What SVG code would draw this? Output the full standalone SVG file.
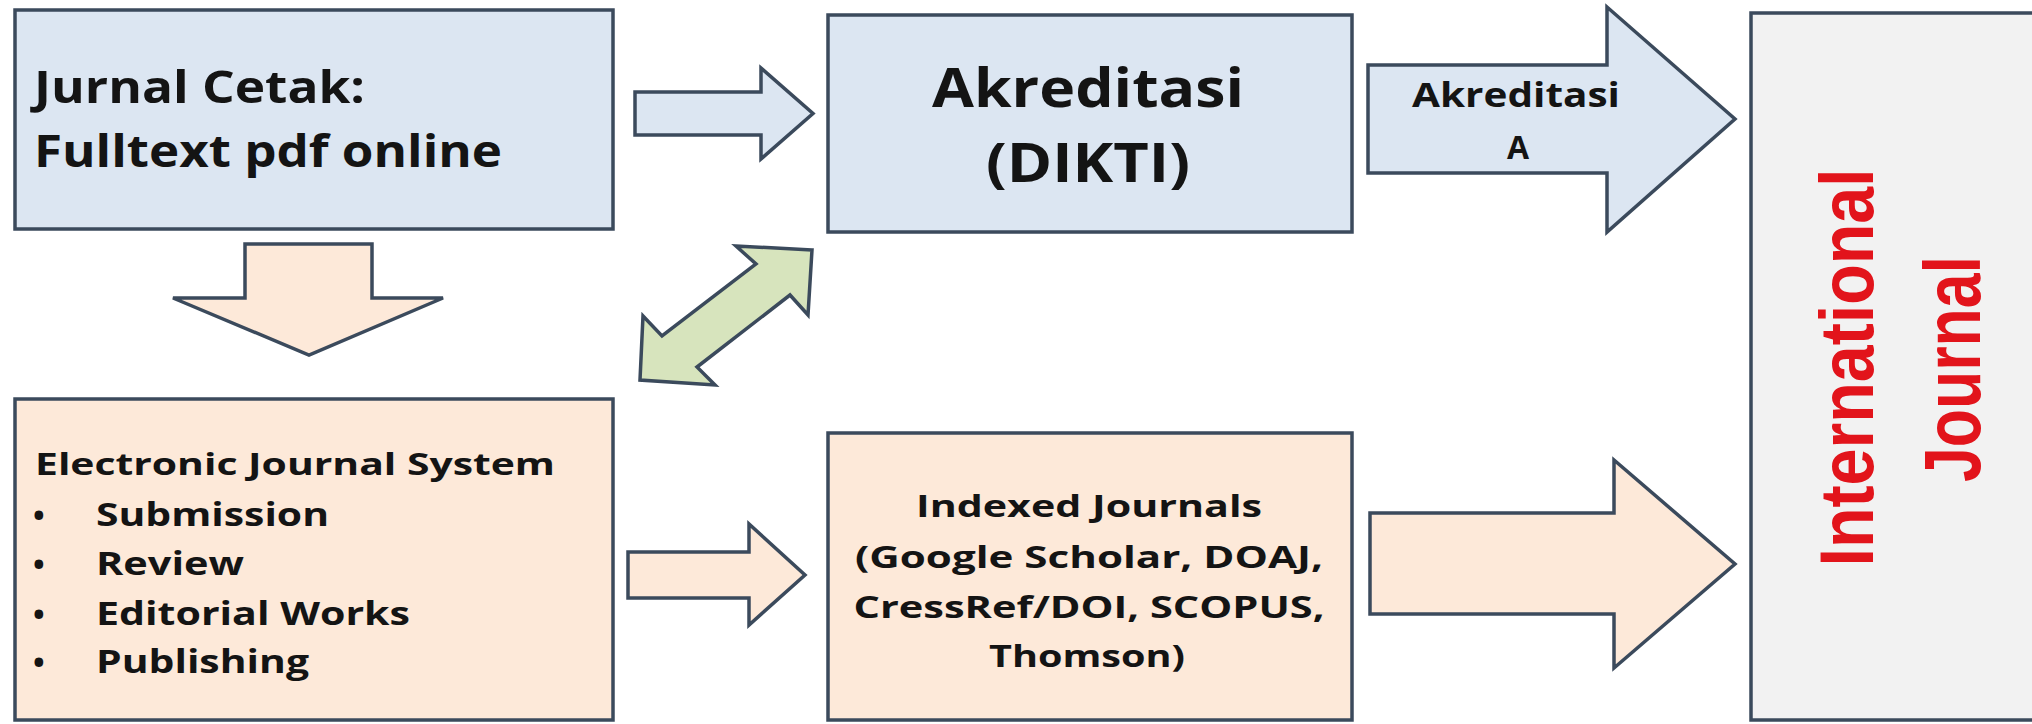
<svg xmlns="http://www.w3.org/2000/svg" width="2032" height="724" viewBox="0 0 2032 724">
<style>
.box{stroke:#3b4a5c;stroke-width:3.5}
.blue{fill:#dce6f2}
.peach{fill:#fde9d9}
.green{fill:#d7e4bd}
.grey{fill:#f2f2f2}
.arr{stroke:#3b4a5c;stroke-width:3.5;stroke-linejoin:miter}
.t{font-family:"Open Sans","Liberation Sans",sans-serif;font-weight:700;fill:#141414}
.c{text-anchor:middle}
.red{font-family:"Liberation Sans",Arial,sans-serif;font-weight:700;fill:#e2141b;font-size:64px;text-anchor:middle}
</style>
<rect width="2032" height="724" fill="#ffffff"/>
<g id="connectors">
  <path class="arr blue" d="M635,92 H761 V68 L813,113.5 L761,159 V135 H635 Z"/>
  <path class="arr peach" d="M245,244 H372 V298 H443 L309,355 L173,298 H245 Z"/>
  <polygon class="arr green" points="812,250 736,246 756,264 662,336 643,316 640,380 715,385 697,367 790,295 808,315"/>
  <path class="arr blue" d="M1368,65 H1607 V7 L1735,119 L1607,232 V173 H1368 Z"/>
  <text class="t c" x="1516" y="107" font-size="34" textLength="208" lengthAdjust="spacingAndGlyphs">Akreditasi</text>
  <text class="t c" x="1518" y="159" font-size="32">A</text>
  <path class="arr peach" d="M628,552 H749 V524 L805,575 L749,625 V598 H628 Z"/>
  <path class="arr peach" d="M1370,513 H1614 V460 L1735,564 L1614,668 V614 H1370 Z"/>
</g>
<g id="jurnal-cetak">
  <rect class="box blue" x="15" y="10" width="598" height="219"/>
  <text class="t" x="34" y="103" font-size="45" textLength="331" lengthAdjust="spacingAndGlyphs">Jurnal Cetak:</text>
  <text class="t" x="34" y="167" font-size="45" textLength="468" lengthAdjust="spacingAndGlyphs">Fulltext pdf online</text>
</g>
<g id="akreditasi-dikti">
  <rect class="box blue" x="828" y="15" width="524" height="217"/>
  <text class="t c" x="1088" y="107" font-size="54" textLength="312" lengthAdjust="spacingAndGlyphs">Akreditasi</text>
  <text class="t c" x="1088" y="182" font-size="54" textLength="204" lengthAdjust="spacingAndGlyphs">(DIKTI)</text>
</g>
<g id="electronic-journal-system">
  <rect class="box peach" x="15" y="399" width="598" height="321"/>
  <text class="t" x="35" y="475" font-size="31" textLength="520" lengthAdjust="spacingAndGlyphs">Electronic Journal System</text>
  <text class="t" x="33" y="526" font-size="31">•</text>
  <text class="t" x="96" y="526" font-size="32" textLength="233" lengthAdjust="spacingAndGlyphs">Submission</text>
  <text class="t" x="33" y="575" font-size="31">•</text>
  <text class="t" x="96" y="575" font-size="32" textLength="148" lengthAdjust="spacingAndGlyphs">Review</text>
  <text class="t" x="33" y="625" font-size="31">•</text>
  <text class="t" x="96" y="625" font-size="32" textLength="314" lengthAdjust="spacingAndGlyphs">Editorial Works</text>
  <text class="t" x="33" y="673" font-size="31">•</text>
  <text class="t" x="96" y="673" font-size="32" textLength="213" lengthAdjust="spacingAndGlyphs">Publishing</text>
</g>
<g id="indexed-journals">
  <rect class="box peach" x="828" y="433" width="524" height="287"/>
  <text class="t c" x="1089" y="517" font-size="31" textLength="346" lengthAdjust="spacingAndGlyphs">Indexed Journals</text>
  <text class="t c" x="1089" y="568" font-size="31" textLength="468" lengthAdjust="spacingAndGlyphs">(Google Scholar, DOAJ,</text>
  <text class="t c" x="1089" y="618" font-size="31" textLength="471" lengthAdjust="spacingAndGlyphs">CressRef/DOI, SCOPUS,</text>
  <text class="t c" x="1087" y="667" font-size="31" textLength="196" lengthAdjust="spacingAndGlyphs">Thomson)</text>
</g>
<g id="international-journal">
  <rect class="box grey" x="1751" y="13" width="300" height="707"/>
  <text class="red" transform="translate(1873,367.5) rotate(-90) scale(1,1.2)" textLength="398" lengthAdjust="spacingAndGlyphs">International</text>
  <text class="red" transform="translate(1980,369) rotate(-90) scale(1,1.25)" textLength="226" lengthAdjust="spacingAndGlyphs">Journal</text>
</g>
</svg>
